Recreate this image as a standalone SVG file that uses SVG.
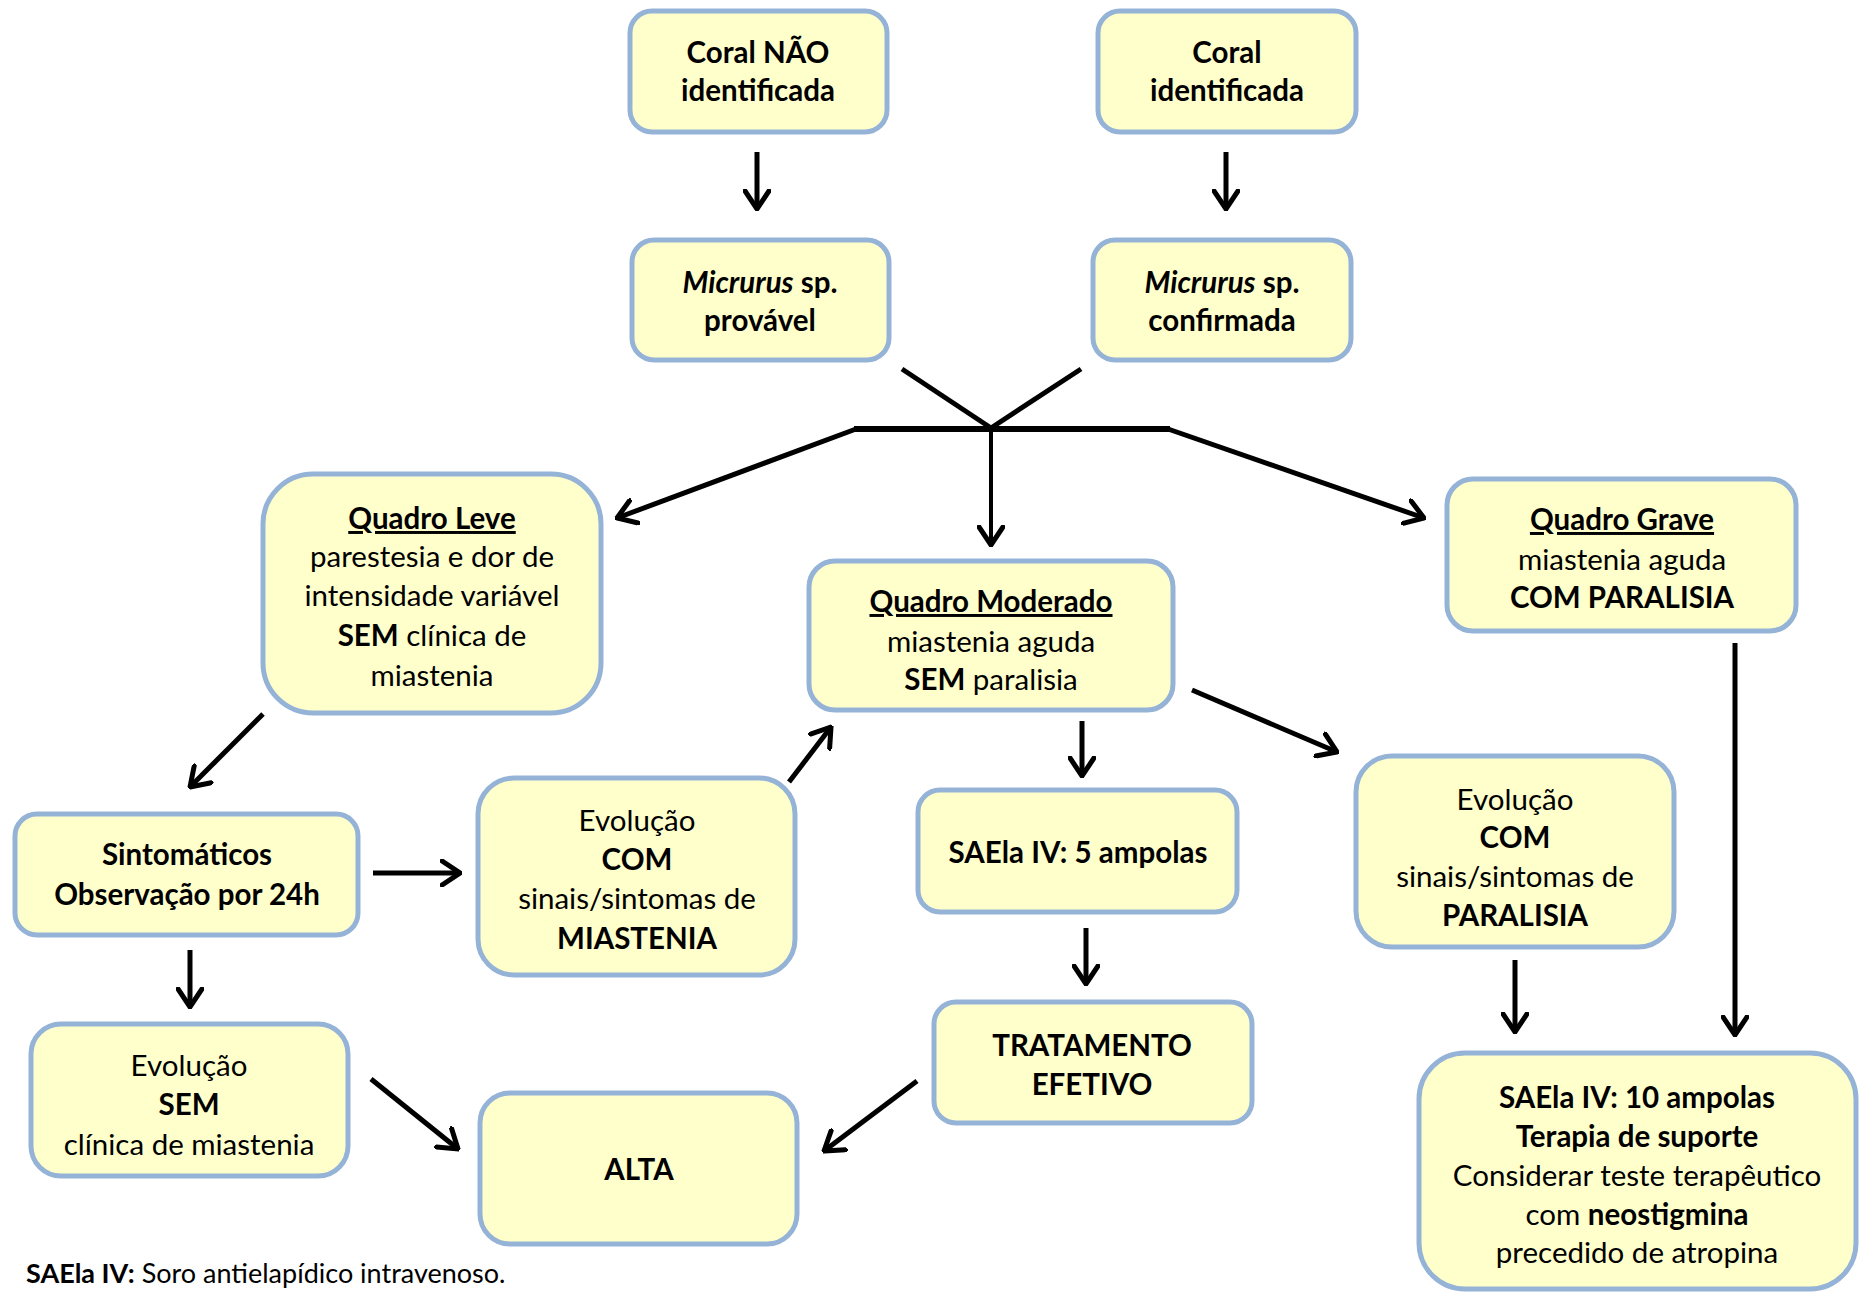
<svg xmlns="http://www.w3.org/2000/svg" width="1863" height="1292" viewBox="0 0 1863 1292">
<style>
.box{fill:#FFFFCC;stroke:#95B3D7;stroke-width:5}
text{font-family:Lato,"Liberation Sans",sans-serif;font-size:29.5px;fill:#000;text-anchor:middle}
.b{font-weight:bold}
.u{font-weight:bold;text-decoration:underline}
.i{font-style:italic}
.c line,.c path{stroke:#000;stroke-width:5;fill:none;stroke-linecap:butt}
</style>
<defs>
<marker id="ah" markerUnits="userSpaceOnUse" viewBox="0 0 22 28" refX="20" refY="14" markerWidth="22" markerHeight="28" orient="auto">
<path d="M2,2 L20,14 L2,26" fill="none" stroke="#000" stroke-width="5" stroke-linecap="round" stroke-linejoin="miter"/>
</marker>
</defs>
<rect width="1863" height="1292" fill="#fff"/>
<g class="c" id="connectors">
<line x1="757" y1="152" x2="757" y2="209" marker-end="url(#ah)"/>
<line x1="1226" y1="152" x2="1226" y2="209" marker-end="url(#ah)"/>
<line x1="902" y1="369" x2="991" y2="428"/>
<line x1="1081" y1="369" x2="991" y2="428"/>
<line x1="854" y1="429" x2="1170" y2="429" style="stroke-width:6"/>
<line x1="856" y1="429" x2="617" y2="518" marker-end="url(#ah)"/>
<line x1="991" y1="429" x2="991" y2="545" style="stroke-width:4" marker-end="url(#ah)"/>
<line x1="1168" y1="429" x2="1424" y2="518" marker-end="url(#ah)"/>
<line x1="263" y1="714" x2="190" y2="787" marker-end="url(#ah)"/>
<line x1="373" y1="873" x2="460" y2="873" marker-end="url(#ah)"/>
<line x1="789" y1="782" x2="831" y2="727" marker-end="url(#ah)"/>
<line x1="1082" y1="721" x2="1082" y2="776" marker-end="url(#ah)"/>
<line x1="1192" y1="690" x2="1337" y2="752" marker-end="url(#ah)"/>
<line x1="1086" y1="928" x2="1086" y2="984" marker-end="url(#ah)"/>
<line x1="190" y1="950" x2="190" y2="1007" marker-end="url(#ah)"/>
<line x1="371" y1="1079" x2="458" y2="1149" marker-end="url(#ah)"/>
<line x1="917" y1="1081" x2="824" y2="1151" marker-end="url(#ah)"/>
<line x1="1515" y1="960" x2="1515" y2="1032" marker-end="url(#ah)"/>
<line x1="1735" y1="643" x2="1735" y2="1035" marker-end="url(#ah)"/>
</g>
<g id="n1"><rect class="box" x="630" y="11" width="257" height="121" rx="22"/>
<text class="b" x="758" y="63">Coral NÃO</text><text class="b" x="758" y="101">identificada</text></g>
<g id="n2"><rect class="box" x="1098" y="11" width="258" height="121" rx="22"/>
<text class="b" x="1227" y="63">Coral</text><text class="b" x="1227" y="101">identificada</text></g>
<g id="n3"><rect class="box" x="632" y="240" width="257" height="120" rx="22"/>
<text class="b" x="760" y="293"><tspan class="i">Micrurus</tspan> sp.</text><text class="b" x="760" y="331">provável</text></g>
<g id="n4"><rect class="box" x="1093" y="240" width="258" height="120" rx="22"/>
<text class="b" x="1222" y="293"><tspan class="i">Micrurus</tspan> sp.</text><text class="b" x="1222" y="331">confirmada</text></g>
<g id="n5"><rect class="box" x="263" y="474" width="338" height="239" rx="50"/>
<text class="u" x="432" y="529">Quadro Leve</text>
<text x="432" y="567">parestesia e dor de</text>
<text x="432" y="606">intensidade variável</text>
<text x="432" y="646"><tspan class="b">SEM</tspan> clínica de</text>
<text x="432" y="686">miastenia</text></g>
<g id="n6"><rect class="box" x="809" y="561" width="364" height="149" rx="26"/>
<text class="u" x="991" y="612">Quadro Moderado</text>
<text x="991" y="652">miastenia aguda</text>
<text x="991" y="690"><tspan class="b">SEM</tspan> paralisia</text></g>
<g id="n7"><rect class="box" x="1447" y="479" width="349" height="152" rx="26"/>
<text class="u" x="1622" y="530">Quadro Grave</text>
<text x="1622" y="570">miastenia aguda</text>
<text class="b" x="1622" y="608">COM PARALISIA</text></g>
<g id="n8"><rect class="box" x="15" y="814" width="343" height="121" rx="22"/>
<text class="b" x="187" y="865">Sintomáticos</text>
<text class="b" x="187" y="905">Observação por 24h</text></g>
<g id="n9"><rect class="box" x="478" y="778" width="317" height="197" rx="36"/>
<text x="637" y="831">Evolução</text>
<text class="b" x="637" y="870">COM</text>
<text x="637" y="909">sinais/sintomas de</text>
<text class="b" x="637" y="949">MIASTENIA</text></g>
<g id="n10"><rect class="box" x="918" y="790" width="319" height="122" rx="22"/>
<text class="b" x="1078" y="863">SAEla IV: 5 ampolas</text></g>
<g id="n11"><rect class="box" x="1356" y="756" width="318" height="191" rx="36"/>
<text x="1515" y="810">Evolução</text>
<text class="b" x="1515" y="848">COM</text>
<text x="1515" y="887">sinais/sintomas de</text>
<text class="b" x="1515" y="926">PARALISIA</text></g>
<g id="n12"><rect class="box" x="31" y="1024" width="317" height="152" rx="30"/>
<text x="189" y="1076">Evolução</text>
<text class="b" x="189" y="1115">SEM</text>
<text x="189" y="1155">clínica de miastenia</text></g>
<g id="n13"><rect class="box" x="934" y="1002" width="318" height="121" rx="22"/>
<text class="b" x="1092" y="1056">TRATAMENTO</text>
<text class="b" x="1092" y="1095">EFETIVO</text></g>
<g id="n14"><rect class="box" x="480" y="1093" width="317" height="151" rx="30"/>
<text class="b" x="639" y="1180">ALTA</text></g>
<g id="n15"><rect class="box" x="1419" y="1053" width="437" height="236" rx="46"/>
<text class="b" x="1637" y="1108">SAEla IV: 10 ampolas</text>
<text class="b" x="1637" y="1147">Terapia de suporte</text>
<text x="1637" y="1186">Considerar teste terapêutico</text>
<text x="1637" y="1225">com <tspan class="b">neostigmina</tspan></text>
<text x="1637" y="1263">precedido de atropina</text></g>
<text x="26" y="1283" style="text-anchor:start;font-size:27px"><tspan class="b">SAEla IV:</tspan> Soro antielapídico intravenoso.</text>
</svg>
